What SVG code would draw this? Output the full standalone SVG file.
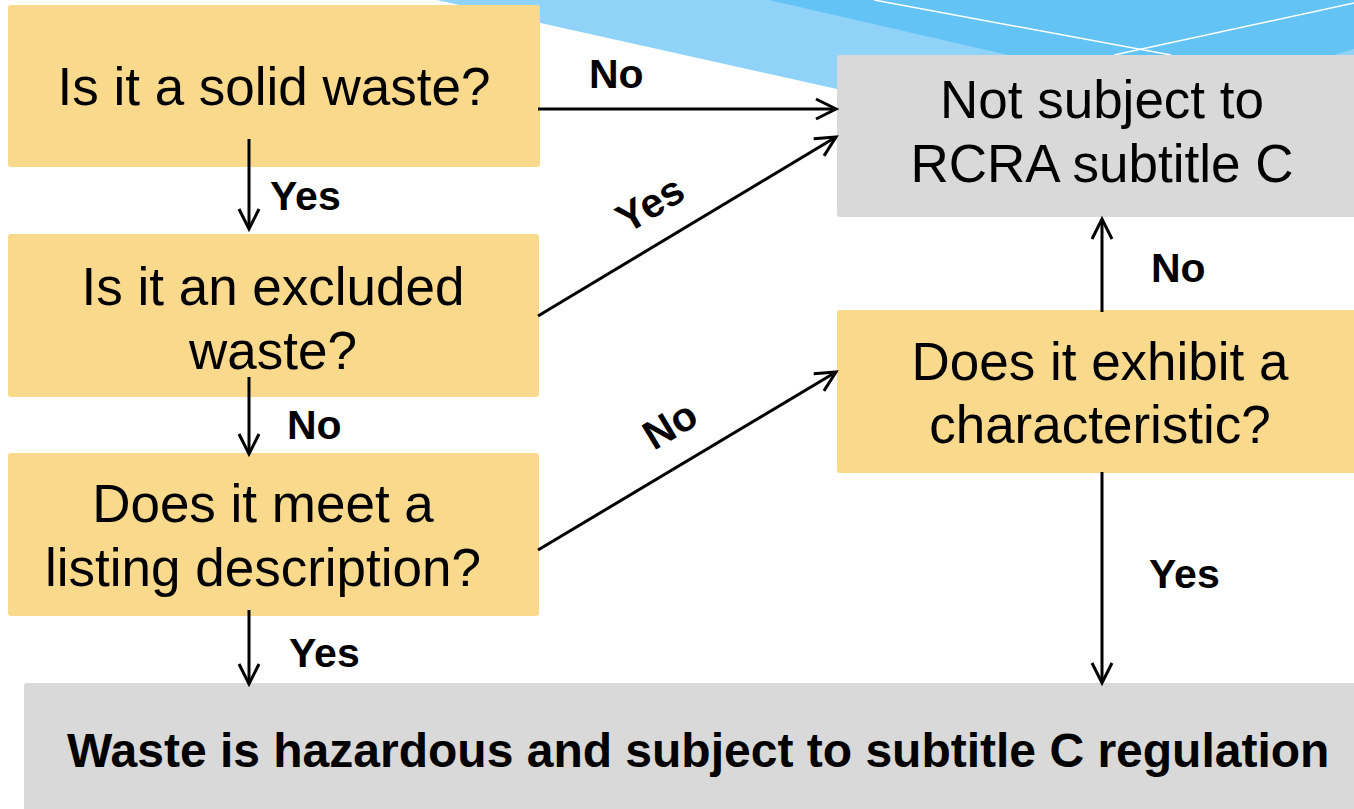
<svg xmlns="http://www.w3.org/2000/svg" width="1354" height="809" viewBox="0 0 1354 809">
<style>
.q{fill:#F9D98C}
.g{fill:#D9D9D9}
.t{font-family:"Liberation Sans",Arial,sans-serif;font-size:53px;fill:#000;text-anchor:middle}
.b{font-family:"Liberation Sans",Arial,sans-serif;font-size:41px;font-weight:bold;fill:#000}
.c{stroke:#000;stroke-width:3;fill:none;marker-end:url(#ah)}
</style>
<defs>
<marker id="ah" markerUnits="userSpaceOnUse" markerWidth="30" markerHeight="30" viewBox="-24 -15 30 30" refX="0" refY="0" orient="auto">
<path d="M-20,-10 L0,0 L-20,10" fill="none" stroke="#000" stroke-width="3"/>
</marker>
</defs>
<rect width="1354" height="809" fill="#fff"/>
<g id="background">
<polygon points="437,0 1354,0 1354,60 837,89" fill="#8FD3F8"/>
<polygon points="769,0 1354,0 1354,49 1330,56 1030,60" fill="#63C3F5"/>
<line x1="874" y1="0" x2="1171" y2="55" stroke="#fff" stroke-width="1.5"/>
<line x1="1354" y1="3" x2="1114" y2="55" stroke="#fff" stroke-width="1.5"/>
</g>
<g id="n-solid">
<rect class="q" x="8" y="5" width="532" height="162" rx="3"/>
<text class="t" x="274" y="105">Is it a solid waste?</text>
</g>
<g id="n-excluded">
<rect class="q" x="8" y="234" width="531" height="163" rx="3"/>
<text class="t" x="273" y="305">Is it an excluded</text>
<text class="t" x="273" y="369">waste?</text>
</g>
<g id="n-listing">
<rect class="q" x="8" y="453" width="531" height="163" rx="3"/>
<text class="t" x="263" y="522">Does it meet a</text>
<text class="t" x="263" y="586">listing description?</text>
</g>
<g id="n-notsubject">
<rect class="g" x="837" y="55" width="520" height="162" rx="3"/>
<text class="t" x="1102" y="118">Not subject to</text>
<text class="t" x="1102" y="182">RCRA subtitle C</text>
</g>
<g id="n-characteristic">
<rect class="q" x="837" y="310" width="520" height="163" rx="3"/>
<text class="t" x="1100" y="380">Does it exhibit a</text>
<text class="t" x="1100" y="443">characteristic?</text>
</g>
<g id="n-hazardous">
<rect class="g" x="24" y="683" width="1333" height="130" rx="3"/>
<text x="67" y="767" font-family="'Liberation Sans',Arial,sans-serif" font-size="48" font-weight="bold">Waste is hazardous and subject to subtitle C regulation</text>
</g>
<g id="connectors">
<line class="c" x1="249" y1="139" x2="249" y2="229"/>
<line class="c" x1="249" y1="377" x2="249" y2="454"/>
<line class="c" x1="249" y1="610" x2="249" y2="684"/>
<line class="c" x1="538" y1="109" x2="836" y2="109"/>
<line class="c" x1="538" y1="316" x2="836" y2="137"/>
<line class="c" x1="538" y1="550" x2="836" y2="372"/>
<line class="c" x1="1102" y1="312" x2="1102" y2="219"/>
<line class="c" x1="1102" y1="472" x2="1102" y2="683"/>
</g>
<g id="labels">
<text class="b" x="589" y="88">No</text>
<text class="b" x="270" y="210">Yes</text>
<text class="b" x="287" y="439">No</text>
<text class="b" x="289" y="667">Yes</text>
<text class="b" x="1151" y="282">No</text>
<text class="b" x="1149" y="588">Yes</text>
<text class="b" text-anchor="middle" transform="translate(650,204) rotate(-31)" y="14">Yes</text>
<text class="b" text-anchor="middle" transform="translate(670,425) rotate(-31)" y="14">No</text>
</g>
</svg>
